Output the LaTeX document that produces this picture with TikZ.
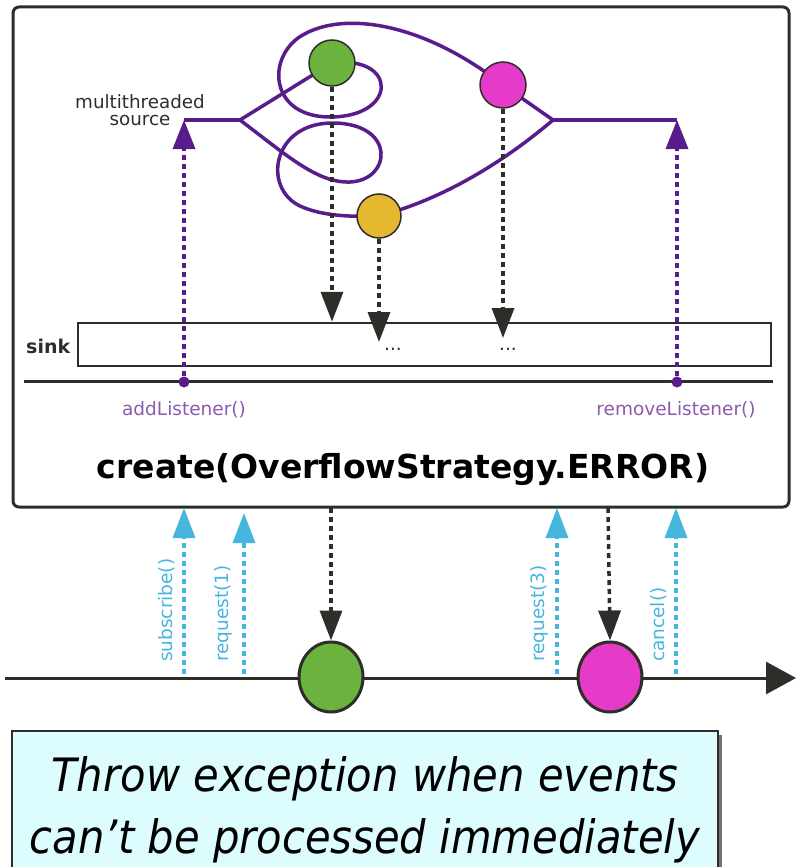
\documentclass[tikz,border=0pt]{standalone}
\usepackage{fontspec}
\setmainfont{DejaVu Sans}
\newfontfamily\notefont{DejaVu Sans}[FakeStretch=0.907]
\usetikzlibrary{arrows.meta,shapes.geometric,shadows,backgrounds}

\definecolor{flux}{RGB}{88,28,140}
\definecolor{fluxlabel}{RGB}{140,90,175}
\definecolor{req}{RGB}{70,182,222}
\definecolor{ink}{RGB}{45,45,42}
\definecolor{evgreen}{RGB}{108,178,62}
\definecolor{evpink}{RGB}{230,58,200}
\definecolor{evyellow}{RGB}{230,184,50}
\definecolor{notebg}{RGB}{220,252,253}

\tikzset{
  ev/.style={circle,draw=ink,line width=1.5pt,minimum size=46pt,inner sep=0pt},
  evbig/.style={ellipse,draw=ink,line width=3pt,minimum width=64pt,minimum height=70pt,inner sep=0pt},
  pipe/.style={flux,line width=3.5pt},
  emit/.style={ink,line width=3.5pt,dash pattern=on 5pt off 4pt,-{Triangle[width=22pt,length=30pt]}},
  listen/.style={flux,line width=3.5pt,dash pattern=on 5pt off 4pt,-{Triangle[width=22pt,length=29pt]}},
  ask/.style={req,line width=3.5pt,dash pattern=on 5pt off 4pt,-{Triangle[width=22pt,length=30pt]}},
  hook/.style={circle,fill=flux,minimum size=11pt,inner sep=0pt},
  lbl/.style={font=\fontsize{18.5}{20}\selectfont,inner sep=0pt},
}

\begin{document}
\begin{tikzpicture}[x=1pt,y=-1pt]
  \useasboundingbox (0,0) rectangle (796,867);

  % operator box
  \draw[ink,line width=3pt,rounded corners=6pt] (13,7) rectangle (789,507);

  % multithreaded source
  \node[lbl,align=center,anchor=north,font=\fontsize{18.3}{17}\selectfont,text=ink] (srclbl) at (140,94) {multithreaded\\source};
  \coordinate (src) at (184,120);
  \coordinate (fork) at (240,120);
  \coordinate (join) at (553,120);
  \coordinate (snk) at (677,120);

  \node[ev,fill=evgreen] (g1) at (332,63) {};
  \node[ev,fill=evpink] (p1) at (503,85) {};
  \node[ev,fill=evyellow,minimum size=44pt] (y1) at (379,216) {};

  \begin{scope}[on background layer]
    \draw[pipe] (src) -- (fork);
    \draw[pipe] (fork) -- (g1.center)
      .. controls (398,55) and (398,117) .. (330,117)
      .. controls (272,117) and (266,62) .. (298,38)
      .. controls (338,10) and (420,20) .. (p1.center) -- (join);
    \draw[pipe] (fork) .. controls (290,158) and (318,183) .. (350,182)
      .. controls (392,180) and (396,124) .. (334,123)
      .. controls (272,122) and (262,188) .. (300,206)
      .. controls (322,216) and (350,217) .. (y1.center)
      .. controls (440,200) and (500,165) .. (join);
    \draw[pipe] (join) -- (snk);
  \end{scope}

  % sink
  \node[draw=ink,line width=2.5pt,minimum width=693pt,minimum height=43pt,inner sep=0pt] (sink) at (424.5,344.5) {};
  \node[lbl,font=\fontsize{19}{20}\selectfont\bfseries,text=ink,anchor=base west] (sinklbl) at (26,353) {sink};
  \node[lbl,text=ink,anchor=base] (dots1) at (393,350) {...};
  \node[lbl,text=ink,anchor=base] (dots2) at (508,350) {...};
  \draw[ink,line width=3pt] (24,381) -- (773,381);

  \coordinate (ge) at (g1.south |- sink.north);
  \coordinate (ye) at (379,342);
  \coordinate (pe) at (503,338);
  \draw[emit] (g1.south) -- (ge);
  \draw[emit] (y1.south) -- (ye);
  \draw[emit] (p1.south) -- (pe);

  % listeners
  \node[hook] (addl) at (184,382) {};
  \node[hook] (reml) at (677,382) {};
  \draw[listen] (addl) -- (src);
  \draw[listen] (reml) -- (snk);
  \node[lbl,text=fluxlabel,anchor=base] (addlbl) at (184,415) {addListener()};
  \node[lbl,text=fluxlabel,anchor=base] (remlbl) at (676,415) {removeListener()};

  \node[inner sep=0pt,font=\fontsize{33}{36}\selectfont\bfseries,anchor=base] (oplbl) at (403,478) {create(OverflowStrategy.ERROR)};

  % subscriber timeline
  \coordinate (t0) at (5,678);
  \coordinate (t1) at (796,678);
  \draw[ink,line width=3pt,-{Triangle[width=32pt,length=30pt]}] (t0) -- (t1);
  \node[evbig,fill=evgreen] (g2) at (331,677) {};
  \node[evbig,fill=evpink] (p2) at (610,677) {};

  \coordinate (o1) at (331,508);
  \coordinate (o2) at (608,508);
  \draw[emit] (o1) -- (g2.north);
  \draw[emit] (o2) -- (p2.north);

  \coordinate (a1) at (184,674);
  \coordinate (a2) at (244,674);
  \coordinate (a3) at (557,674);
  \coordinate (a4) at (676,674);
  \draw[ask] (a1) -- (184,508);
  \draw[ask] (a2) -- (244,513);
  \draw[ask] (a3) -- (557,508);
  \draw[ask] (a4) -- (676,508);
  \node[lbl,text=req,rotate=90,anchor=base west] (sublbl) at (172,662) {subscribe()};
  \node[lbl,text=req,rotate=90,anchor=base west] (r1lbl) at (228,662) {request(1)};
  \node[lbl,text=req,rotate=90,anchor=base west] (r3lbl) at (544,662) {request(3)};
  \node[lbl,text=req,rotate=90,anchor=base west] (canlbl) at (664,662) {cancel()};

  % note
  \node[draw=ink,line width=1.5pt,fill=notebg,minimum width=706pt,minimum height=158pt,anchor=north,
        drop shadow={shadow xshift=4pt,shadow yshift=-4pt,fill=black,opacity=.55},
        align=center,inner sep=0pt,font=\notefont\itshape\fontsize{46}{62}\selectfont] (note) at (365,730)
        {Throw exception when events\\can’t be processed immediately};
\end{tikzpicture}
\end{document}
